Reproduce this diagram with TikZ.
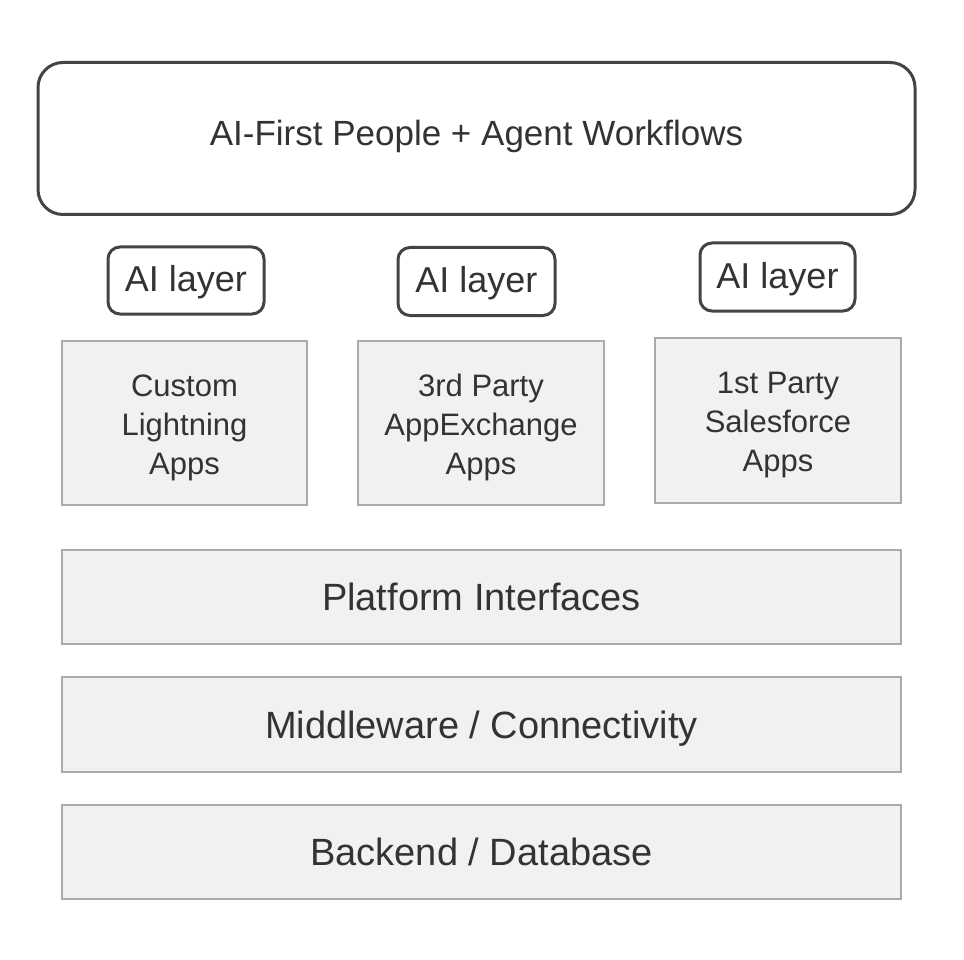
\documentclass[tikz,border=0pt]{standalone}
\usepackage{fontspec}
\setmainfont{Liberation Sans}
\definecolor{txt}{HTML}{333333}
\definecolor{dark}{HTML}{444444}
\definecolor{boxfill}{HTML}{F1F1F1}
\definecolor{boxline}{HTML}{ABABAB}
\tikzset{
  topbox/.style={draw=dark, line width=3pt, rounded corners=25pt, fill=white, text=txt,
    minimum width=877pt, minimum height=152pt, inner sep=0pt, text height=26pt, text depth=12pt,
    font=\fontsize{35}{42}\selectfont},
  aibox/.style={draw=dark, line width=3pt, rounded corners=12pt, fill=white, text=txt,
    inner sep=0pt, text height=26pt, text depth=4pt, font=\fontsize{36}{42}\selectfont},
  appbox/.style={draw=boxline, line width=2pt, fill=boxfill, text=txt, inner sep=0pt,
    align=center, font=\fontsize{31}{39}\selectfont},
  barbox/.style={draw=boxline, line width=2pt, fill=boxfill, text=txt, inner sep=0pt,
    minimum width=839pt, text height=32pt, text depth=5pt, font=\fontsize{38}{44}\selectfont}
}
\newcommand{\firststrut}{\rule{0pt}{31pt}}
\begin{document}
\begin{tikzpicture}[x=1pt,y=-1pt]
\useasboundingbox[fill=white] (0,0) rectangle (964,960);
\node[topbox] (top) at (476.5,138.5) {AI-First People + Agent Workflows};
\node[aibox, minimum width=156pt, minimum height=67pt] (ai1) at (186,280.5) {AI layer};
\node[aibox, minimum width=157pt, minimum height=68pt] (ai2) at (476.5,281.5) {AI layer};
\node[aibox, minimum width=155pt, minimum height=68pt] (ai3) at (777.5,277) {AI layer};
\node[appbox, minimum width=245pt, minimum height=164pt] (app1) at (184.5,423) {\firststrut Custom\\Lightning\\Apps};
\node[appbox, minimum width=246pt, minimum height=164pt] (app2) at (481,423) {\firststrut 3rd Party\\AppExchange\\Apps};
\node[appbox, minimum width=246pt, minimum height=165pt] (app3) at (778,420.5) {\firststrut 1st Party\\Salesforce\\Apps};
\node[barbox, minimum height=94pt] (plat) at (481.5,597) {Platform Interfaces};
\node[barbox, minimum height=95pt] (mid) at (481.5,724.5) {Middleware / Connectivity};
\node[barbox, minimum height=94pt] (back) at (481.5,852) {Backend / Database};
\end{tikzpicture}
\end{document}
